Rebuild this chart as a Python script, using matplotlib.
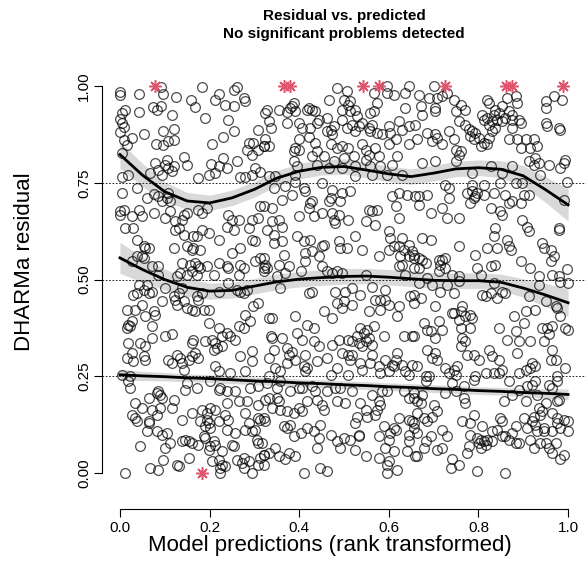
#!/usr/bin/env python3
"""DHARMa residual vs. predicted diagnostic, redrawn with matplotlib."""

import numpy as np
import matplotlib
matplotlib.use('Agg')
import matplotlib.pyplot as plt

plt.rcParams['font.family'] = ['Liberation Sans', 'DejaVu Sans']

# scaled residuals against rank-transformed predictions (pred, resid)
resid_points = [
    # upper band, left third
    (0.000, 0.985), (0.000, 0.976), (0.042, 0.980), (0.097, 0.980), (0.091, 0.997),
    (0.126, 0.971), (0.184, 0.998), (0.159, 0.963), (0.168, 0.945), (0.220, 0.980),
    (0.213, 0.965), (0.235, 0.950), (0.254, 0.989), (0.261, 0.998), (0.276, 0.969),
    (0.280, 0.961), (0.254, 0.948), (0.012, 0.937), (0.004, 0.930), (0.043, 0.933),
    (0.073, 0.945), (0.082, 0.937), (0.091, 0.948), (0.116, 0.926), (0.190, 0.917),
    (0.241, 0.913), (0.000, 0.916), (0.004, 0.905), (0.010, 0.894), (0.000, 0.881),
    (0.054, 0.877), (0.096, 0.883), (0.121, 0.890), (0.254, 0.883), (0.309, 0.886),
    (0.231, 0.868), (0.205, 0.851), (0.008, 0.861), (0.027, 0.866), (0.016, 0.848),
    (0.081, 0.851), (0.097, 0.848), (0.108, 0.857), (0.120, 0.861), (0.287, 0.853),
    (0.298, 0.853), (0.283, 0.836), (0.295, 0.823), (0.309, 0.836), (0.321, 0.844),
    (0.004, 0.827), (0.144, 0.817), (0.231, 0.814), (0.261, 0.807), (0.079, 0.801),
    (0.105, 0.810), (0.101, 0.795), (0.108, 0.788), (0.120, 0.793), (0.116, 0.780),
    (0.149, 0.795), (0.203, 0.799), (0.220, 0.793), (0.239, 0.788), (0.213, 0.775),
    (0.198, 0.769), (0.086, 0.784), (0.094, 0.769), (0.302, 0.788), (0.313, 0.778),
    (0.295, 0.771), (0.068, 0.775), (0.019, 0.769), (0.004, 0.764), (0.268, 0.764),
    (0.280, 0.764), (0.175, 0.763),
    # upper band, middle third
    (0.328, 0.939), (0.324, 0.931), (0.354, 0.939), (0.373, 0.932), (0.380, 0.942),
    (0.388, 0.956), (0.384, 0.948), (0.391, 0.935), (0.421, 0.943), (0.429, 0.937),
    (0.436, 0.935), (0.417, 0.939), (0.466, 0.965), (0.484, 0.995), (0.507, 0.988),
    (0.499, 0.965), (0.514, 0.961), (0.510, 0.952), (0.496, 0.939), (0.514, 0.935),
    (0.525, 0.939), (0.566, 0.982), (0.574, 0.956), (0.559, 0.931), (0.566, 0.935),
    (0.596, 0.999), (0.611, 0.978), (0.596, 0.982), (0.637, 0.982), (0.644, 0.999),
    (0.637, 0.942), (0.332, 0.909), (0.336, 0.892), (0.373, 0.905), (0.399, 0.905),
    (0.406, 0.892), (0.440, 0.905), (0.444, 0.913), (0.462, 0.918), (0.496, 0.913),
    (0.477, 0.896), (0.470, 0.887), (0.462, 0.883), (0.473, 0.875), (0.425, 0.892),
    (0.507, 0.892), (0.518, 0.900), (0.529, 0.922), (0.533, 0.896), (0.525, 0.883),
    (0.540, 0.905), (0.555, 0.892), (0.559, 0.883), (0.574, 0.879), (0.563, 0.900),
    (0.600, 0.896), (0.603, 0.879), (0.585, 0.875), (0.622, 0.909), (0.630, 0.887),
    (0.644, 0.896), (0.421, 0.868), (0.324, 0.862), (0.321, 0.844), (0.332, 0.844),
    (0.399, 0.862), (0.391, 0.840), (0.388, 0.832), (0.399, 0.836), (0.436, 0.853),
    (0.470, 0.849), (0.429, 0.819), (0.440, 0.831), (0.484, 0.840), (0.496, 0.844),
    (0.510, 0.840), (0.540, 0.849), (0.548, 0.836), (0.570, 0.840), (0.600, 0.849),
    (0.615, 0.862), (0.644, 0.849), (0.455, 0.819), (0.477, 0.806), (0.499, 0.814),
    (0.522, 0.819), (0.555, 0.823), (0.577, 0.819), (0.548, 0.810), (0.618, 0.819),
    (0.388, 0.806), (0.395, 0.793), (0.440, 0.797), (0.466, 0.788), (0.496, 0.788),
    (0.525, 0.793), (0.559, 0.793), (0.581, 0.793), (0.607, 0.797), (0.332, 0.767),
    (0.347, 0.767), (0.391, 0.771), (0.525, 0.767), (0.563, 0.771), (0.596, 0.771),
    (0.630, 0.771),
    # upper band, right third
    (0.667, 0.978), (0.689, 0.969), (0.700, 0.999), (0.708, 0.969), (0.719, 0.974),
    (0.730, 0.982), (0.671, 0.948), (0.674, 0.926), (0.704, 0.943), (0.704, 0.935),
    (0.745, 0.965), (0.760, 0.952), (0.771, 0.939), (0.749, 0.935), (0.819, 0.965),
    (0.823, 0.956), (0.864, 0.969), (0.883, 0.974), (0.886, 0.956), (0.853, 0.948),
    (0.838, 0.939), (0.845, 0.931), (0.834, 0.926), (0.868, 0.935), (0.875, 0.926),
    (0.808, 0.926), (0.812, 0.913), (0.950, 0.961), (0.950, 0.943), (0.968, 0.974),
    (0.987, 0.965), (0.659, 0.900), (0.734, 0.883), (0.756, 0.909), (0.771, 0.900),
    (0.819, 0.918), (0.831, 0.909), (0.842, 0.913), (0.853, 0.909), (0.860, 0.918),
    (0.875, 0.913), (0.890, 0.913), (0.823, 0.900), (0.838, 0.892), (0.831, 0.883),
    (0.875, 0.892), (0.894, 0.905), (0.950, 0.905), (0.953, 0.896), (0.979, 0.892),
    (0.983, 0.887), (0.778, 0.888), (0.786, 0.883), (0.782, 0.870), (0.793, 0.879),
    (0.790, 0.862), (0.801, 0.866), (0.812, 0.853), (0.823, 0.866), (0.805, 0.844),
    (0.819, 0.849), (0.685, 0.879), (0.704, 0.875), (0.708, 0.866), (0.697, 0.857),
    (0.663, 0.862), (0.719, 0.849), (0.745, 0.862), (0.749, 0.836), (0.760, 0.831),
    (0.756, 0.823), (0.868, 0.862), (0.886, 0.862), (0.905, 0.862), (0.924, 0.862),
    (0.894, 0.840), (0.916, 0.840), (0.931, 0.844), (0.674, 0.801), (0.704, 0.806),
    (0.749, 0.806), (0.912, 0.806), (0.927, 0.814), (0.923, 0.797), (0.935, 0.801),
    (0.957, 0.797), (0.994, 0.810), (0.991, 0.801), (0.983, 0.788), (0.786, 0.776),
    (0.827, 0.793), (0.875, 0.793), (0.853, 0.776), (0.938, 0.771),
    # between 0.75 and 0.5, left third
    (0.004, 0.724), (0.038, 0.736), (0.060, 0.711), (0.075, 0.721), (0.086, 0.715),
    (0.094, 0.702), (0.105, 0.711), (0.112, 0.702), (0.108, 0.724), (0.000, 0.676),
    (0.008, 0.680), (0.001, 0.668), (0.027, 0.663), (0.042, 0.680), (0.049, 0.663),
    (0.075, 0.672), (0.101, 0.659), (0.112, 0.676), (0.123, 0.650), (0.142, 0.668),
    (0.149, 0.672), (0.138, 0.655), (0.175, 0.680), (0.183, 0.672), (0.194, 0.685),
    (0.012, 0.633), (0.030, 0.633), (0.123, 0.629), (0.131, 0.633), (0.142, 0.616),
    (0.164, 0.612), (0.172, 0.612), (0.183, 0.629), (0.198, 0.620), (0.242, 0.668),
    (0.250, 0.655), (0.265, 0.655), (0.239, 0.637), (0.254, 0.629), (0.287, 0.633),
    (0.295, 0.655), (0.309, 0.659), (0.313, 0.689), (0.038, 0.603), (0.053, 0.586),
    (0.056, 0.582), (0.064, 0.582), (0.120, 0.582), (0.149, 0.586), (0.164, 0.582),
    (0.161, 0.577), (0.179, 0.577), (0.220, 0.603), (0.250, 0.569), (0.268, 0.582),
    (0.295, 0.603), (0.302, 0.599), (0.038, 0.560), (0.049, 0.560), (0.053, 0.556),
    (0.027, 0.547), (0.071, 0.534), (0.086, 0.534), (0.138, 0.543), (0.157, 0.538),
    (0.168, 0.543), (0.175, 0.534), (0.179, 0.530), (0.161, 0.521), (0.172, 0.513),
    (0.149, 0.513), (0.194, 0.534), (0.220, 0.543), (0.242, 0.530), (0.239, 0.534),
    (0.276, 0.530), (0.268, 0.538), (0.302, 0.547), (0.313, 0.556), (0.321, 0.530),
    (0.086, 0.513), (0.127, 0.508), (0.134, 0.517), (0.209, 0.513), (0.265, 0.513),
    # between 0.75 and 0.5, middle third
    (0.343, 0.736), (0.369, 0.741), (0.391, 0.752), (0.410, 0.736), (0.414, 0.728),
    (0.451, 0.749), (0.473, 0.732), (0.470, 0.711), (0.466, 0.702), (0.496, 0.724),
    (0.514, 0.728), (0.492, 0.702), (0.362, 0.706), (0.384, 0.719), (0.425, 0.698),
    (0.429, 0.702), (0.421, 0.685), (0.607, 0.715), (0.622, 0.724), (0.641, 0.719),
    (0.659, 0.715), (0.615, 0.689), (0.339, 0.685), (0.321, 0.689), (0.399, 0.663),
    (0.432, 0.663), (0.451, 0.672), (0.473, 0.672), (0.488, 0.668), (0.477, 0.655),
    (0.481, 0.646), (0.510, 0.655), (0.555, 0.680), (0.563, 0.676), (0.574, 0.680),
    (0.548, 0.650), (0.570, 0.642), (0.622, 0.659), (0.339, 0.650), (0.354, 0.655),
    (0.328, 0.629), (0.362, 0.637), (0.343, 0.616), (0.343, 0.594), (0.362, 0.599),
    (0.395, 0.612), (0.410, 0.599), (0.425, 0.603), (0.455, 0.590), (0.451, 0.586),
    (0.488, 0.599), (0.492, 0.582), (0.507, 0.582), (0.525, 0.612), (0.540, 0.577),
    (0.600, 0.625), (0.603, 0.607), (0.630, 0.607), (0.600, 0.577), (0.611, 0.586),
    (0.622, 0.586), (0.633, 0.577), (0.644, 0.590), (0.652, 0.573), (0.365, 0.564),
    (0.414, 0.568), (0.414, 0.547), (0.429, 0.573), (0.444, 0.560), (0.577, 0.560),
    (0.626, 0.560), (0.644, 0.560), (0.656, 0.556), (0.321, 0.556), (0.324, 0.538),
    (0.328, 0.530), (0.321, 0.521), (0.354, 0.538), (0.377, 0.534), (0.369, 0.517),
    (0.351, 0.508), (0.403, 0.521), (0.451, 0.534), (0.462, 0.521), (0.473, 0.517),
    (0.484, 0.521), (0.496, 0.517), (0.548, 0.513), (0.622, 0.534), (0.630, 0.538),
    (0.637, 0.513), (0.656, 0.530),
    # between 0.75 and 0.5, right third
    (0.726, 0.745), (0.734, 0.736), (0.786, 0.745), (0.812, 0.745), (0.849, 0.749),
    (0.883, 0.749), (0.898, 0.749), (0.998, 0.752), (0.685, 0.719), (0.667, 0.715),
    (0.667, 0.693), (0.734, 0.711), (0.775, 0.724), (0.786, 0.728), (0.797, 0.724),
    (0.782, 0.698), (0.790, 0.711), (0.793, 0.715), (0.812, 0.719), (0.834, 0.724),
    (0.860, 0.719), (0.868, 0.698), (0.875, 0.702), (0.894, 0.698), (0.901, 0.719),
    (0.912, 0.719), (0.991, 0.706), (0.693, 0.672), (0.719, 0.685), (0.730, 0.659),
    (0.756, 0.659), (0.827, 0.685), (0.849, 0.676), (0.853, 0.668), (0.898, 0.655),
    (0.909, 0.637), (0.912, 0.625), (0.979, 0.633), (0.979, 0.629), (0.838, 0.633),
    (0.834, 0.612), (0.674, 0.607), (0.693, 0.603), (0.756, 0.586), (0.819, 0.582),
    (0.842, 0.582), (0.864, 0.603), (0.868, 0.586), (0.872, 0.577), (0.793, 0.564),
    (0.942, 0.594), (0.946, 0.582), (0.961, 0.577), (0.968, 0.560), (0.961, 0.547),
    (0.656, 0.564), (0.667, 0.556), (0.674, 0.551), (0.682, 0.543), (0.667, 0.530),
    (0.712, 0.551), (0.719, 0.551), (0.726, 0.556), (0.715, 0.538), (0.726, 0.530),
    (0.712, 0.521), (0.797, 0.530), (0.827, 0.534), (0.838, 0.538), (0.894, 0.547),
    (0.916, 0.530), (0.998, 0.526), (0.685, 0.504), (0.741, 0.513), (0.756, 0.508),
    (0.805, 0.513), (0.935, 0.508), (0.964, 0.513), (0.979, 0.508),
    # between 0.5 and 0.25, left third
    (0.042, 0.487), (0.053, 0.474), (0.038, 0.465), (0.030, 0.461), (0.060, 0.487),
    (0.071, 0.469), (0.064, 0.465), (0.101, 0.478), (0.120, 0.457), (0.123, 0.448),
    (0.127, 0.435), (0.131, 0.465), (0.142, 0.444), (0.149, 0.426), (0.161, 0.422),
    (0.168, 0.418), (0.187, 0.422), (0.198, 0.422), (0.138, 0.478), (0.172, 0.457),
    (0.175, 0.448), (0.183, 0.465), (0.220, 0.469), (0.242, 0.491), (0.261, 0.474),
    (0.268, 0.469), (0.276, 0.465), (0.283, 0.474), (0.094, 0.444), (0.049, 0.435),
    (0.015, 0.422), (0.034, 0.422), (0.075, 0.418), (0.079, 0.409), (0.056, 0.405),
    (0.027, 0.392), (0.019, 0.383), (0.015, 0.375), (0.023, 0.379), (0.071, 0.379),
    (0.309, 0.439), (0.298, 0.431), (0.280, 0.409), (0.291, 0.392), (0.198, 0.388),
    (0.220, 0.375), (0.239, 0.362), (0.246, 0.353), (0.228, 0.353), (0.265, 0.379),
    (0.276, 0.375), (0.257, 0.345), (0.071, 0.349), (0.101, 0.353), (0.116, 0.358),
    (0.019, 0.336), (0.045, 0.336), (0.056, 0.327), (0.164, 0.345), (0.161, 0.336),
    (0.190, 0.340), (0.205, 0.345), (0.213, 0.336), (0.209, 0.319), (0.216, 0.323),
    (0.228, 0.327), (0.027, 0.310), (0.015, 0.297), (0.030, 0.289), (0.053, 0.302),
    (0.056, 0.293), (0.108, 0.293), (0.116, 0.284), (0.127, 0.306), (0.134, 0.297),
    (0.138, 0.284), (0.153, 0.293), (0.161, 0.302), (0.168, 0.310), (0.175, 0.297),
    (0.142, 0.267), (0.268, 0.302), (0.295, 0.315), (0.295, 0.289), (0.213, 0.276),
    (0.220, 0.263), (0.246, 0.258), (0.280, 0.263), (0.004, 0.254), (0.023, 0.250),
    # between 0.5 and 0.25, middle third
    (0.358, 0.478), (0.421, 0.465), (0.429, 0.469), (0.481, 0.469), (0.503, 0.469),
    (0.518, 0.478), (0.536, 0.461), (0.563, 0.482), (0.592, 0.474), (0.570, 0.448),
    (0.581, 0.448), (0.592, 0.448), (0.648, 0.457), (0.656, 0.439), (0.484, 0.439),
    (0.499, 0.444), (0.496, 0.426), (0.518, 0.435), (0.455, 0.418), (0.473, 0.401),
    (0.555, 0.418), (0.581, 0.422), (0.600, 0.435), (0.622, 0.431), (0.618, 0.405),
    (0.332, 0.401), (0.339, 0.401), (0.391, 0.405), (0.417, 0.383), (0.432, 0.375),
    (0.536, 0.375), (0.551, 0.370), (0.566, 0.379), (0.336, 0.353), (0.339, 0.349),
    (0.362, 0.349), (0.395, 0.362), (0.406, 0.345), (0.432, 0.340), (0.444, 0.327),
    (0.473, 0.332), (0.488, 0.345), (0.510, 0.345), (0.518, 0.340), (0.529, 0.353),
    (0.533, 0.336), (0.540, 0.327), (0.548, 0.340), (0.555, 0.349), (0.563, 0.332),
    (0.544, 0.362), (0.589, 0.353), (0.633, 0.353), (0.652, 0.353), (0.343, 0.319),
    (0.373, 0.323), (0.384, 0.314), (0.377, 0.306), (0.414, 0.306), (0.496, 0.310),
    (0.510, 0.306), (0.518, 0.306), (0.514, 0.293), (0.563, 0.306), (0.618, 0.310),
    (0.615, 0.293), (0.592, 0.293), (0.607, 0.280), (0.611, 0.276), (0.630, 0.280),
    (0.652, 0.280), (0.332, 0.297), (0.391, 0.293), (0.373, 0.284), (0.347, 0.271),
    (0.410, 0.276), (0.417, 0.271), (0.414, 0.263), (0.440, 0.289), (0.462, 0.297),
    (0.484, 0.271), (0.470, 0.254), (0.510, 0.254), (0.536, 0.284), (0.540, 0.267),
    (0.559, 0.284), (0.577, 0.276), (0.581, 0.258), (0.600, 0.263), (0.637, 0.263),
    (0.644, 0.254), (0.358, 0.263), (0.332, 0.250),
    # between 0.5 and 0.25, right third
    (0.667, 0.491), (0.697, 0.487), (0.730, 0.487), (0.756, 0.495), (0.834, 0.491),
    (0.935, 0.487), (0.983, 0.494), (1.000, 0.491), (0.656, 0.461), (0.671, 0.452),
    (0.715, 0.469), (0.745, 0.465), (0.808, 0.461), (0.816, 0.457), (0.827, 0.465),
    (0.842, 0.452), (0.853, 0.469), (0.860, 0.465), (0.912, 0.457), (0.950, 0.444),
    (0.972, 0.431), (0.976, 0.426), (0.704, 0.431), (0.741, 0.413), (0.745, 0.413),
    (0.764, 0.431), (0.760, 0.418), (0.771, 0.405), (0.782, 0.409), (0.786, 0.401),
    (0.756, 0.396), (0.927, 0.422), (0.905, 0.418), (0.879, 0.405), (0.901, 0.388),
    (0.983, 0.405), (0.678, 0.388), (0.712, 0.392), (0.685, 0.370), (0.693, 0.366),
    (0.704, 0.349), (0.719, 0.370), (0.760, 0.375), (0.782, 0.375), (0.845, 0.375),
    (0.883, 0.366), (0.942, 0.375), (0.953, 0.375), (0.957, 0.358), (0.964, 0.379),
    (0.994, 0.375), (1.000, 0.370), (0.656, 0.353), (0.764, 0.349), (0.771, 0.340),
    (0.760, 0.327), (0.864, 0.345), (0.890, 0.340), (0.916, 0.340), (0.946, 0.340),
    (0.685, 0.319), (0.704, 0.310), (0.697, 0.297), (0.708, 0.293), (0.775, 0.306),
    (0.790, 0.306), (0.801, 0.293), (0.823, 0.319), (0.831, 0.302), (0.845, 0.293),
    (0.886, 0.310), (0.964, 0.319), (0.961, 0.293), (0.972, 0.293), (0.663, 0.276),
    (0.682, 0.250), (0.689, 0.250), (0.726, 0.271), (0.734, 0.258), (0.745, 0.267),
    (0.752, 0.276), (0.749, 0.254), (0.793, 0.250), (0.816, 0.258), (0.834, 0.258),
    (0.845, 0.258), (0.853, 0.267), (0.890, 0.258), (0.905, 0.267), (0.916, 0.271),
    (0.927, 0.276), (0.920, 0.284), (0.976, 0.250), (0.994, 0.271),
    # lower band, left third
    (0.019, 0.237), (0.023, 0.220), (0.086, 0.211), (0.090, 0.202), (0.094, 0.194),
    (0.082, 0.207), (0.146, 0.215), (0.149, 0.233), (0.172, 0.220), (0.201, 0.237),
    (0.220, 0.215), (0.224, 0.220), (0.239, 0.211), (0.257, 0.211), (0.291, 0.220),
    (0.309, 0.224), (0.034, 0.181), (0.064, 0.194), (0.120, 0.190), (0.049, 0.168),
    (0.071, 0.164), (0.090, 0.168), (0.082, 0.151), (0.116, 0.168), (0.027, 0.151),
    (0.034, 0.142), (0.038, 0.134), (0.064, 0.134), (0.064, 0.129), (0.239, 0.181),
    (0.265, 0.185), (0.283, 0.185), (0.309, 0.177), (0.324, 0.190), (0.161, 0.155),
    (0.183, 0.164), (0.201, 0.168), (0.213, 0.164), (0.194, 0.155), (0.179, 0.134),
    (0.194, 0.138), (0.198, 0.129), (0.201, 0.116), (0.190, 0.121), (0.138, 0.138),
    (0.220, 0.134), (0.235, 0.151), (0.242, 0.138), (0.280, 0.155), (0.287, 0.129),
    (0.309, 0.142), (0.313, 0.138), (0.060, 0.108), (0.082, 0.108), (0.094, 0.099),
    (0.105, 0.103), (0.239, 0.112), (0.257, 0.103), (0.280, 0.112), (0.295, 0.108),
    (0.302, 0.112), (0.306, 0.086), (0.309, 0.078), (0.045, 0.069), (0.101, 0.065),
    (0.112, 0.078), (0.138, 0.082), (0.146, 0.086), (0.153, 0.082), (0.161, 0.078),
    (0.187, 0.095), (0.190, 0.091), (0.209, 0.082), (0.201, 0.069), (0.198, 0.060),
    (0.213, 0.073), (0.175, 0.073), (0.228, 0.056), (0.250, 0.073), (0.254, 0.069),
    (0.097, 0.034), (0.153, 0.039), (0.205, 0.030), (0.220, 0.034), (0.228, 0.021),
    (0.235, 0.017), (0.224, 0.013), (0.261, 0.034), (0.276, 0.039), (0.272, 0.026),
    (0.276, 0.013), (0.287, 0.030), (0.309, 0.021), (0.313, 0.039), (0.321, 0.047),
    (0.127, 0.021), (0.131, 0.017), (0.068, 0.013), (0.086, 0.009), (0.012, 0.000),
    (0.224, 0.000), (0.295, 0.000),
    # lower band, middle third
    (0.328, 0.233), (0.351, 0.220), (0.358, 0.237), (0.380, 0.211), (0.399, 0.220),
    (0.406, 0.220), (0.429, 0.224), (0.436, 0.211), (0.462, 0.211), (0.481, 0.220),
    (0.492, 0.220), (0.518, 0.211), (0.563, 0.202), (0.585, 0.211), (0.596, 0.211),
    (0.633, 0.211), (0.644, 0.194), (0.656, 0.194), (0.332, 0.194), (0.351, 0.194),
    (0.354, 0.185), (0.417, 0.185), (0.440, 0.190), (0.451, 0.177), (0.455, 0.164),
    (0.484, 0.185), (0.503, 0.181), (0.536, 0.181), (0.577, 0.185), (0.581, 0.177),
    (0.574, 0.164), (0.339, 0.168), (0.358, 0.164), (0.373, 0.160), (0.388, 0.155),
    (0.399, 0.168), (0.406, 0.160), (0.321, 0.142), (0.324, 0.134), (0.529, 0.146),
    (0.548, 0.164), (0.551, 0.146), (0.570, 0.151), (0.622, 0.142), (0.644, 0.138),
    (0.656, 0.129), (0.525, 0.129), (0.365, 0.121), (0.373, 0.116), (0.380, 0.125),
    (0.417, 0.116), (0.432, 0.108), (0.447, 0.125), (0.589, 0.121), (0.611, 0.116),
    (0.615, 0.112), (0.603, 0.103), (0.388, 0.095), (0.403, 0.103), (0.444, 0.091),
    (0.470, 0.099), (0.484, 0.082), (0.499, 0.091), (0.514, 0.086), (0.533, 0.095),
    (0.533, 0.099), (0.577, 0.095), (0.600, 0.086), (0.644, 0.099), (0.644, 0.082),
    (0.317, 0.078), (0.440, 0.065), (0.492, 0.065), (0.525, 0.060), (0.347, 0.065),
    (0.332, 0.052), (0.354, 0.043), (0.369, 0.035), (0.377, 0.052), (0.391, 0.043),
    (0.321, 0.047), (0.321, 0.022), (0.548, 0.043), (0.577, 0.039), (0.592, 0.065),
    (0.611, 0.056), (0.641, 0.056), (0.659, 0.043), (0.600, 0.030), (0.596, 0.022),
    (0.618, 0.009), (0.596, 0.000), (0.410, 0.000), (0.447, 0.013), (0.462, 0.004),
    # lower band, right third
    (0.682, 0.237), (0.741, 0.233), (0.767, 0.224), (0.790, 0.241), (0.868, 0.237),
    (0.909, 0.224), (0.920, 0.228), (0.927, 0.237), (0.957, 0.228), (0.964, 0.220),
    (0.976, 0.237), (0.656, 0.207), (0.674, 0.202), (0.663, 0.185), (0.671, 0.181),
    (0.726, 0.207), (0.749, 0.211), (0.767, 0.194), (0.771, 0.181), (0.857, 0.185),
    (0.875, 0.202), (0.890, 0.215), (0.905, 0.185), (0.931, 0.202), (0.950, 0.181),
    (0.976, 0.185), (0.979, 0.190), (0.700, 0.177), (0.708, 0.160), (0.663, 0.155),
    (0.935, 0.168), (0.942, 0.160), (0.938, 0.151), (0.964, 0.155), (0.976, 0.142),
    (0.991, 0.138), (1.000, 0.134), (0.652, 0.134), (0.678, 0.142), (0.685, 0.134),
    (0.697, 0.146), (0.764, 0.134), (0.782, 0.129), (0.790, 0.151), (0.849, 0.142),
    (0.853, 0.134), (0.901, 0.142), (0.924, 0.146), (0.920, 0.134), (0.927, 0.125),
    (0.946, 0.116), (0.976, 0.129), (0.983, 0.116), (0.656, 0.116), (0.663, 0.103),
    (0.719, 0.112), (0.730, 0.095), (0.808, 0.121), (0.782, 0.099), (0.831, 0.108),
    (0.842, 0.112), (0.883, 0.121), (0.875, 0.103), (0.860, 0.095), (0.868, 0.086),
    (0.909, 0.116), (0.931, 0.108), (0.946, 0.108), (0.964, 0.108), (1.000, 0.108),
    (0.693, 0.095), (0.682, 0.082), (0.678, 0.065), (0.797, 0.091), (0.805, 0.086),
    (0.812, 0.082), (0.801, 0.078), (0.816, 0.073), (0.805, 0.065), (0.819, 0.086),
    (0.831, 0.082), (0.778, 0.069), (0.775, 0.052), (0.853, 0.095), (0.883, 0.078),
    (0.890, 0.078), (0.916, 0.086), (0.924, 0.065), (0.938, 0.078), (0.950, 0.078),
    (0.957, 0.065), (0.964, 0.052), (0.972, 0.078), (0.991, 0.047), (0.983, 0.035),
    (0.708, 0.060), (0.719, 0.065), (0.663, 0.043), (0.741, 0.035), (0.738, 0.013),
    (0.756, 0.022), (0.797, 0.004), (0.860, 0.000),
]

# simulation outliers, drawn at the residual limits
outlier_pred = [0.078, 0.366, 0.380, 0.542, 0.577, 0.726, 0.861, 0.875, 0.988, 0.184]
outlier_resid = [1.0, 1.0, 1.0, 1.0, 1.0, 1.0, 1.0, 1.0, 1.0, 0.0]

# fitted quantile regression curves with their confidence half-widths
quant_x = [0.00, 0.05, 0.10, 0.15, 0.20, 0.25, 0.30, 0.35, 0.40, 0.45, 0.50,
           0.55, 0.60, 0.65, 0.70, 0.75, 0.80, 0.85, 0.90, 0.95, 1.00]
quant_75 = [0.823, 0.770, 0.727, 0.703, 0.698, 0.711, 0.733, 0.762, 0.780, 0.790, 0.792,
            0.783, 0.773, 0.766, 0.775, 0.786, 0.789, 0.785, 0.768, 0.732, 0.693]
quant_50 = [0.556, 0.526, 0.500, 0.480, 0.470, 0.472, 0.483, 0.494, 0.501, 0.505, 0.508,
            0.509, 0.506, 0.502, 0.498, 0.497, 0.497, 0.493, 0.478, 0.460, 0.440]
quant_25 = [0.254, 0.251, 0.249, 0.246, 0.244, 0.241, 0.238, 0.236, 0.233, 0.231, 0.228,
            0.226, 0.223, 0.221, 0.218, 0.216, 0.213, 0.211, 0.208, 0.206, 0.203]
band_75 = [0.035, 0.030, 0.025, 0.022, 0.020, 0.020, 0.020, 0.020, 0.020, 0.020, 0.020,
           0.020, 0.020, 0.020, 0.020, 0.020, 0.020, 0.022, 0.026, 0.033, 0.042]
band_50 = [0.040, 0.033, 0.027, 0.023, 0.021, 0.020, 0.020, 0.020, 0.020, 0.020, 0.020,
           0.020, 0.020, 0.020, 0.020, 0.020, 0.020, 0.021, 0.024, 0.030, 0.036]
band_25 = [0.014, 0.012, 0.011, 0.010, 0.010, 0.010, 0.010, 0.010, 0.010, 0.010, 0.010,
           0.010, 0.010, 0.010, 0.010, 0.010, 0.010, 0.010, 0.011, 0.012, 0.014]

x_ticks = [0.0, 0.2, 0.4, 0.6, 0.8, 1.0]
y_ticks = [0.0, 0.25, 0.5, 0.75, 1.0]


def main():
    pts = np.array(resid_points)
    qx = np.array(quant_x)

    W, H = 587, 579
    fig = plt.figure(figsize=(W / 100, H / 100), dpi=100)
    ax = fig.add_axes([0.1738, 0.1202, 0.8245, 0.794])

    # confidence bands under everything
    for curve, band in ((quant_25, band_25), (quant_50, band_50), (quant_75, band_75)):
        c = np.array(curve)
        b = np.array(band)
        ax.fill_between(qx, c - b, c + b, color='#d9d9d9', lw=0, zorder=1)

    for q in (0.25, 0.5, 0.75):
        ax.axhline(q, color='black', lw=0.6, ls=(0, (2, 2)), zorder=2)

    ax.plot(pts[:, 0], pts[:, 1], 'o', ms=7.0, mfc='none',
            mec=(0, 0, 0, 0.7), mew=0.9, zorder=3)
    ax.plot(outlier_pred, outlier_resid, ls='none', marker=(8, 2, 0), ms=9,
            mec='#DF536B', mew=1.1, zorder=4)

    for curve in (quant_25, quant_50, quant_75):
        ax.plot(qx, curve, color='black', lw=2.0, zorder=5)

    ax.set_xlim(-0.04, 1.04)
    ax.set_ylim(-0.094, 1.094)
    for side in ('top', 'right'):
        ax.spines[side].set_visible(False)
    ax.spines['left'].set_bounds(0, 1)
    ax.spines['bottom'].set_bounds(0, 1)
    ax.set_xticks(x_ticks)
    ax.set_xticklabels([f'{t:.1f}' for t in x_ticks])
    ax.set_yticks(y_ticks)
    ax.set_yticklabels([f'{t:.2f}' for t in y_ticks], rotation=90, va='center')
    ax.tick_params(direction='out', length=6, width=0.8, labelsize=11, pad=2)

    # axis titles placed in figure pixels
    fig.text(330 / W, 1 - 546 / H, 'Model predictions (rank transformed)',
             ha='center', va='center', fontsize=16)
    fig.text(25 / W, 1 - 262 / H, 'DHARMa residual', rotation=90,
             ha='center', va='center', fontsize=16)

    cx = 0.1738 + 0.8245 / 2
    fig.text(cx, 1 - 16 / H, 'Residual vs. predicted', ha='center', va='center',
             fontsize=11, fontweight='bold')
    fig.text(cx, 1 - 34 / H, 'No significant problems detected', ha='center',
             va='center', fontsize=11, fontweight='bold')

    fig.savefig('out.png', dpi=100)
    plt.close(fig)


if __name__ == '__main__':
    main()
